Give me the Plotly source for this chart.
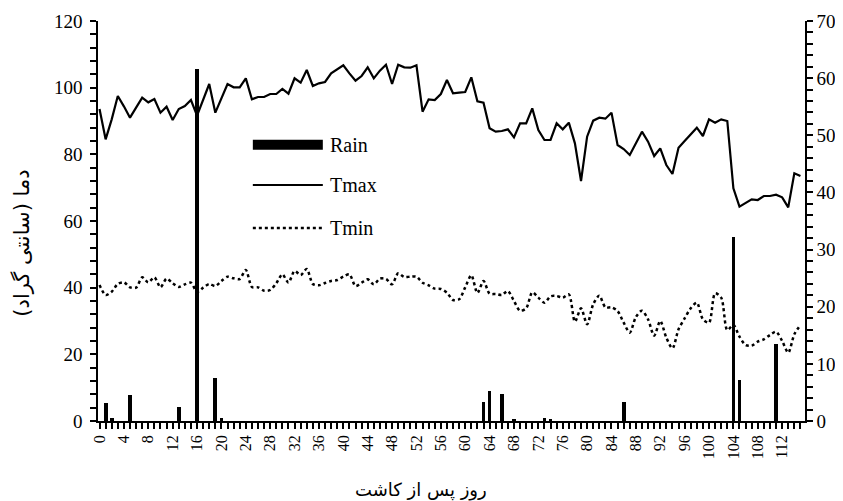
import plotly.graph_objects as go

days = list(range(116))

tmax = [93.6, 84.5, 90.5, 97.5, 94.4, 91.0, 94.0, 97.0, 95.6, 96.6,
        92.5, 94.3, 90.3, 93.6, 94.5, 96.3, 91.6, 96.4, 101.1, 92.5,
        96.8, 101.1, 100.1, 100.1, 102.8, 96.5, 97.2, 97.2, 98.1, 98.1,
        99.6, 98.2, 102.8, 101.5, 105.3, 100.5, 101.3, 101.7, 104.3, 105.5,
        106.7, 104.3, 102.1, 103.5, 106.1, 102.8, 105.1, 106.9, 101.1, 106.9,
        106.1, 106.0, 106.7, 92.8, 96.5, 96.3, 98.1, 102.3, 98.3, 98.5,
        98.7, 103.1, 95.9, 95.5, 87.8, 86.8, 87.0, 87.5, 85.1, 89.3,
        89.3, 93.8, 87.3, 84.3, 84.3, 89.3, 87.5, 89.5, 83.3, 72.0,
        85.3, 90.1, 91.0, 90.7, 92.5, 82.8, 81.6, 79.8, 83.5, 86.8,
        83.8, 79.5, 81.8, 76.8, 74.1, 82.0, 84.0, 86.0, 88.0, 85.5,
        90.5, 89.5, 90.5, 90.0, 69.8, 64.3, 65.3, 66.5, 66.3, 67.5,
        67.5, 67.9, 67.1, 64.1, 74.3, 73.5]

tmin = [40.8, 37.8, 38.8, 41.1, 41.6, 40.1, 40.0, 43.1, 41.6, 43.1,
        40.1, 42.7, 41.3, 40.2, 41.0, 41.5, 38.7, 40.0, 41.1, 40.5,
        42.0, 43.3, 42.8, 42.6, 45.3, 40.2, 40.1, 39.1, 39.3, 41.3,
        44.0, 41.5, 45.0, 43.8, 45.6, 41.1, 40.7, 41.4, 42.0, 42.3,
        43.3, 44.0, 40.5, 41.5, 42.5, 41.0, 42.7, 42.6, 41.0, 44.3,
        43.2, 43.3, 43.3, 41.5, 40.7, 39.7, 39.6, 38.5, 36.3, 36.5,
        40.1, 43.7, 38.4, 42.0, 38.2, 38.1, 37.8, 39.0, 36.0, 33.1,
        33.8, 38.6, 37.0, 35.5, 37.4, 37.5, 37.0, 38.0, 29.8, 33.8,
        29.0, 35.0, 37.6, 34.1, 34.1, 33.0, 29.5, 26.5, 31.2, 33.1,
        30.5, 25.6, 30.0, 25.0, 21.8, 27.5, 30.8, 33.8, 35.5, 30.5,
        29.5, 38.3, 37.0, 27.3, 28.8, 25.3, 22.8, 22.6, 23.8, 24.5,
        25.8, 26.8, 24.0, 20.5, 26.0, 28.8]

rain_days = [1, 2, 5, 13, 16, 19, 20, 63, 64, 66, 68, 73, 74, 86, 104, 105, 111]
rain_mm = [3.1, 0.5, 4.5, 2.4, 61.6, 7.5, 0.6, 3.4, 5.3, 4.7, 0.3, 0.6, 0.3, 3.4, 32.2, 7.1, 13.4]

x_tickvals = list(range(0, 113, 4))
x_ticktext = [str(v) for v in x_tickvals]

FONT = "Liberation Serif, Times New Roman, serif"
FA = "DejaVu Sans"

fig = go.Figure()
fig.add_trace(go.Bar(x=rain_days, y=rain_mm, yaxis="y2", name="Rain",
                     marker=dict(color="black", line=dict(width=0)), width=0.62,
                     showlegend=False))
fig.add_trace(go.Scatter(x=days, y=tmax, mode="lines", name="Tmax",
                         line=dict(color="black", width=2.2), showlegend=False))
fig.add_trace(go.Scatter(x=days, y=tmin, mode="lines", name="Tmin",
                         line=dict(color="black", width=2.5, dash="dot", shape="spline", smoothing=0.8),
                         showlegend=False))

# legend drawn as shapes + text (paper coordinates)
fig.add_shape(type="rect", xref="paper", yref="paper", x0=0.219, x1=0.318, y0=0.678, y1=0.703,
              fillcolor="black", line=dict(width=0))
fig.add_shape(type="line", xref="paper", yref="paper", x0=0.219, x1=0.318, y0=0.59, y1=0.59,
              line=dict(color="black", width=2.2))
fig.add_shape(type="line", xref="paper", yref="paper", x0=0.219, x1=0.318, y0=0.4825, y1=0.4825,
              line=dict(color="black", width=2.5, dash="dot"))
for label, yy in [("Rain", 0.69), ("Tmax", 0.59), ("Tmin", 0.4825)]:
    fig.add_annotation(text=label, xref="paper", yref="paper", x=0.325, y=yy,
                       xanchor="left", yanchor="middle", showarrow=False,
                       font=dict(family=FONT, size=20, color="black"))

fig.add_annotation(text="روز پس از کاشت", xref="paper", yref="paper", x=0.457, y=-0.1725,
                   xanchor="center", yanchor="middle", showarrow=False,
                   font=dict(family=FA, size=18, color="black"))
fig.add_annotation(text="دما (سانتی گراد)", xref="paper", yref="paper", x=-0.108, y=0.445,
                   xanchor="center", yanchor="middle", showarrow=False, textangle=-90,
                   font=dict(family=FA, size=21, color="black"))

axis_common = dict(ticks="outside", ticklen=6, tickwidth=1.5, tickcolor="black",
                   showline=True, linecolor="black", linewidth=1.5, showgrid=False,
                   zeroline=False, automargin=False)

# page body has an 8px default margin, so the figure is sized/margined to compensate
fig.update_layout(
    width=835, height=493,
    margin=dict(l=90, r=38, t=13, b=80, autoexpand=False),
    plot_bgcolor="white", paper_bgcolor="white",
    font=dict(family=FONT, size=19, color="black"),
    bargap=0,
    xaxis=dict(range=[-0.25, 115.75], tickmode="array", tickvals=x_tickvals, ticktext=x_ticktext,
               tickangle=-90,
               minor=dict(dtick=1, tick0=0, ticks="outside", ticklen=6, tickwidth=1.5, tickcolor="black"),
               tickfont=dict(family=FONT, size=16), **axis_common),
    yaxis=dict(range=[0, 120], dtick=20, tick0=0, ticklabelstandoff=4,
               minor=dict(dtick=4, ticks="outside", ticklen=6, tickwidth=1.5, tickcolor="black"),
               tickfont=dict(family=FONT, size=19), **axis_common),
    yaxis2=dict(range=[0, 70], dtick=10, tick0=0, overlaying="y", side="right",
                minor=dict(dtick=2, ticks="outside", ticklen=6, tickwidth=1.5, tickcolor="black"),
                tickfont=dict(family=FONT, size=19), **axis_common),
)

fig.write_html("out.html")
